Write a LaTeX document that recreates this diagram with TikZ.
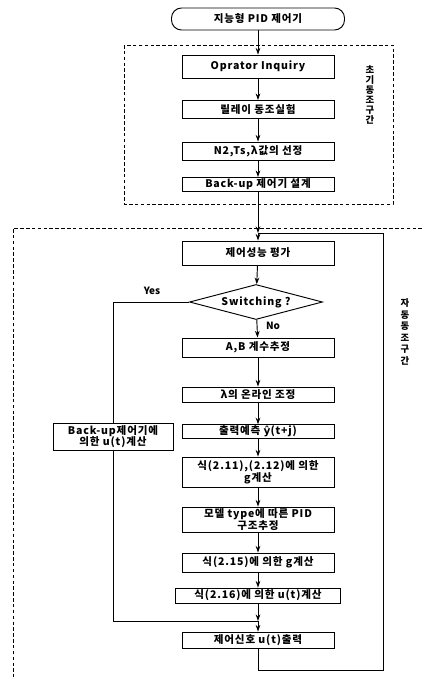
\documentclass[tikz,border=0pt]{standalone}
\usepackage{fontspec}
\setmainfont{Noto Sans CJK KR}
\newfontfamily\symfont{DejaVu Sans}
\usetikzlibrary{arrows.meta}
\usetikzlibrary{shapes.geometric}

\begin{document}
\begin{tikzpicture}[x=0.3mm, y=-0.3mm, line width=0.8pt,
  proc/.style={draw, minimum width=45.6mm, inner sep=1pt, align=center,
    font=\fontsize{9}{10}\selectfont\bfseries\addfontfeatures{LetterSpace=8}},
  flow/.style={-{Stealth[length=2mm, width=1.4mm]}},
  zone/.style={dash pattern=on 3pt off 2pt, line width=0.6pt},
  zonelabel/.style={align=center, inner sep=0pt, font=\fontsize{8}{\zoneskip}\selectfont\bfseries}]
\useasboundingbox (0,0) rectangle (422,677);
\def\spine{258}
\def\zoneskip{8.5}

% initial tuning part
\node[proc, rounded corners=3mm, minimum width=51.9mm, minimum height=6.6mm] (start) at (\spine,19) {지능형 PID 제어기};
\node[proc, minimum height=6.9mm] (inq) at (\spine,66.5) {Oprator Inquiry};
\node[proc, minimum height=5.4mm] (relay) at (\spine,109.5) {릴레이 동조실험};
\node[proc, minimum height=5.4mm] (sel) at (\spine,151) {N2,Ts,λ값의 선정};
\node[proc, minimum height=4.2mm] (bkd) at (\spine,184.5) {Back-up 제어기 설계};

% auto tuning part
\coordinate (m1) at (\spine,233);
\node[proc, minimum height=7.2mm] (eval) at (\spine,253) {제어성능 평가};
\node[draw, diamond, aspect=3.8, minimum width=39.9mm, minimum height=10.5mm, inner sep=0pt,
  font=\fontsize{9}{10}\selectfont\bfseries\addfontfeatures{LetterSpace=8}] (sw) at (256,302) {Switching ?};
\node[font=\fontsize{8.5}{10}\selectfont\bfseries] (no) at (273,326) {No};
\node[font=\fontsize{8.5}{10}\selectfont\bfseries] (yes) at (152,291) {Yes};
\node[proc, minimum height=5.7mm] (ab) at (\spine,347.5) {A,B 계수추정};
\node[proc, minimum height=4.5mm] (lam) at (\spine,394.5) {λ의 온라인 조정};
\node[proc, minimum height=3.9mm] (pred) at (\spine,431.5) {출력예측 {\symfont ŷ}(t+j)};
\node[proc, minimum height=9mm] (gfit) at (\spine,472) {식(2.11),(2.12)에 의한\\g계산};
\node[proc, minimum height=7.5mm] (pid) at (\spine,519.5) {모델 type에 따른 PID\\구조추정};
\node[proc, minimum height=5.7mm] (gcal) at (\spine,562.5) {식(2.15)에 의한 g계산};
\node[proc, minimum width=49.5mm, minimum height=4.5mm] (ucal) at (\spine,595.5) {식(2.16)에 의한 u(t)계산};
\coordinate (m2) at (\spine,621);
\node[proc, minimum height=4.8mm] (out) at (\spine,640) {제어신호 u(t)출력};
\node[proc, minimum width=36mm, minimum height=8.1mm] (bku) at (113,436.5) {Back-up제어기에\\의한 u(t)계산};
\coordinate (fb) at (383,670);

\draw[flow] (start) -- (inq);
\draw[flow] (inq) -- (relay);
\draw[flow] (relay) -- (sel);
\draw[flow] (sel) -- (bkd);
\draw[flow] (bkd) -- (m1);
\draw[flow] (m1) -- (eval);
\draw[flow] (eval) -- (sw);
\draw[flow] (sw) -- (ab);
\draw[flow] (ab) -- (lam);
\draw[flow] (lam) -- (pred);
\draw[flow] (pred) -- (gfit);
\draw[flow] (gfit) -- (pid);
\draw[flow] (pid) -- (gcal);
\draw[flow] (gcal) -- (ucal);
\draw[flow] (ucal) -- (m2);
\draw[flow] (m2) -- (out);
\draw (sw.west) -| (bku.north);
\draw (bku.south) |- (m2);
\draw (out) |- (fb) |- (m1);

% tuning zones
\draw[zone] (124,45) rectangle (393,204);
\draw[zone] (422,228) -- (13,228) -- (13,677);
\node[zonelabel] (zone1) at (370,95) {초\\기\\동\\조\\구\\간};
\def\zoneskip{9.8}
\node[zonelabel] (zone2) at (405,332) {자\\동\\동\\조\\구\\간};
\end{tikzpicture}
\end{document}
